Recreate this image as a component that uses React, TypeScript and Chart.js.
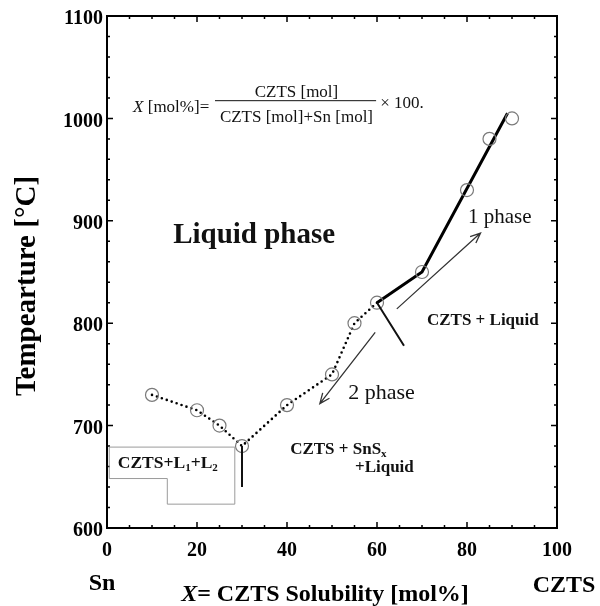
import { useEffect, useRef } from 'react';
import { Chart, registerables } from 'chart.js';

Chart.register(...registerables);

// Measured liquidus points: CZTS solubility in Sn [mol%] vs temperature [°C]
const solubility = [10, 20, 25, 30, 40, 50, 55, 60, 70, 80, 85, 90];
const temperature = [730, 715, 700, 680, 720, 750, 800, 820, 850, 930, 980, 1000];

// Dotted two-phase boundary runs through the first eight measurements
const twoPhaseX = [10, 20, 25, 30, 40, 50, 55, 60];
const twoPhaseY = [730, 715, 700, 680, 720, 750, 800, 820];

// Solid one-phase boundary
const onePhaseX = [60, 70, 89];
const onePhaseY = [820, 850, 1005];

// Axis ranges
const xMin = 0;
const xMax = 100;
const yMin = 600;
const yMax = 1100;

// Guide lines and arrows (data units)
const eutecticX = [30, 30];
const eutecticY = [680, 640];
const tieX = [60, 66];
const tieY = [820, 778];
const arrowOneX = [64.4, 83];
const arrowOneY = [814, 888];
const arrowTwoX = [59.6, 47.3];
const arrowTwoY = [791, 721.5];

// Outline of the CZTS+L1+L2 region
const regionX = [0.5, 28.4, 28.4, 13.4, 13.4, 0.5];
const regionY = [679, 679, 623.3, 623.3, 648.3, 648.3];

const SERIF = '"Liberation Serif", "Times New Roman", serif';

type Seg = [string, string, number];

function drawRuns(ctx: CanvasRenderingContext2D, x: number, y: number, segs: Seg[], align: 'left' | 'center' = 'left') {
  let total = 0;
  for (const [t, f] of segs) {
    ctx.font = f;
    total += ctx.measureText(t).width;
  }
  let cx = align === 'center' ? x - total / 2 : x;
  ctx.textAlign = 'left';
  for (const [t, f, dy] of segs) {
    ctx.font = f;
    ctx.fillText(t, cx, y + dy);
    cx += ctx.measureText(t).width;
  }
}

const overlay = {
  id: 'phaseOverlay',
  afterDraw(chart: any) {
    const { ctx, chartArea: a, scales } = chart;
    const sx = (v: number) => scales.x.getPixelForValue(v);
    const sy = (v: number) => scales.y.getPixelForValue(v);
    ctx.save();

    // frame
    ctx.strokeStyle = '#000';
    ctx.lineWidth = 2;
    ctx.strokeRect(a.left, a.top, a.right - a.left, a.bottom - a.top);

    // inward ticks on all four sides
    ctx.lineWidth = 1.5;
    ctx.beginPath();
    for (let v = xMin; v <= xMax; v += 5) {
      const len = v % 20 === 0 ? 6 : 3;
      const p = sx(v);
      ctx.moveTo(p, a.bottom);
      ctx.lineTo(p, a.bottom - len);
      ctx.moveTo(p, a.top);
      ctx.lineTo(p, a.top + len);
    }
    for (let v = yMin; v <= yMax; v += 20) {
      const len = v % 100 === 0 ? 6 : 3;
      const p = sy(v);
      ctx.moveTo(a.left, p);
      ctx.lineTo(a.left + len, p);
      ctx.moveTo(a.right, p);
      ctx.lineTo(a.right - len, p);
    }
    ctx.stroke();

    // region outline
    ctx.strokeStyle = '#9a9a9a';
    ctx.lineWidth = 1;
    ctx.beginPath();
    regionX.forEach((v, i) => {
      const px = sx(v), py = sy(regionY[i]);
      if (i === 0) ctx.moveTo(px, py); else ctx.lineTo(px, py);
    });
    ctx.closePath();
    ctx.stroke();

    // guide lines
    ctx.strokeStyle = '#111';
    ctx.lineWidth = 2;
    ctx.beginPath();
    ctx.moveTo(sx(eutecticX[0]), sy(eutecticY[0]));
    ctx.lineTo(sx(eutecticX[1]), sy(eutecticY[1]));
    ctx.moveTo(sx(tieX[0]), sy(tieY[0]));
    ctx.lineTo(sx(tieX[1]), sy(tieY[1]));
    ctx.stroke();

    // arrows
    const arrow = (xs: number[], ys: number[]) => {
      const x0 = sx(xs[0]), y0 = sy(ys[0]), x1 = sx(xs[1]), y1 = sy(ys[1]);
      const ang = Math.atan2(y1 - y0, x1 - x0);
      const hl = 11, ha = 0.4;
      ctx.beginPath();
      ctx.moveTo(x0, y0);
      ctx.lineTo(x1, y1);
      ctx.moveTo(x1 - hl * Math.cos(ang - ha), y1 - hl * Math.sin(ang - ha));
      ctx.lineTo(x1, y1);
      ctx.lineTo(x1 - hl * Math.cos(ang + ha), y1 - hl * Math.sin(ang + ha));
      ctx.stroke();
    };
    ctx.strokeStyle = '#333';
    ctx.lineWidth = 1.3;
    arrow(arrowOneX, arrowOneY);
    arrow(arrowTwoX, arrowTwoY);

    // texts
    ctx.fillStyle = '#111';
    ctx.textBaseline = 'alphabetic';
    const reg = (s: number) => `${s}px ${SERIF}`;
    const bold = (s: number) => `bold ${s}px ${SERIF}`;
    const ital = (s: number) => `italic ${s}px ${SERIF}`;

    // formula
    drawRuns(ctx, sx(5.8), sy(1006.6), [['X', ital(17), 0], [' [mol%]=', reg(17), 0]]);
    drawRuns(ctx, sx(42.1), sy(1021.2), [['CZTS [mol]', reg(17), 0]], 'center');
    drawRuns(ctx, sx(42.1), sy(996.9), [['CZTS [mol]+Sn [mol]', reg(17), 0]], 'center');
    ctx.strokeStyle = '#111';
    ctx.lineWidth = 1;
    ctx.beginPath();
    ctx.moveTo(sx(24), sy(1017.3));
    ctx.lineTo(sx(59.8), sy(1017.3));
    ctx.stroke();
    drawRuns(ctx, sx(60.7), sy(1010.5), [['\u00d7 100.', reg(17), 0]]);

    drawRuns(ctx, sx(14.7), sy(878), [['Liquid phase', bold(29), 0]]);
    drawRuns(ctx, sx(80.2), sy(897.7), [['1 phase', reg(21), 0]]);
    drawRuns(ctx, sx(53.6), sy(725.5), [['2 phase', reg(22), 0]]);
    drawRuns(ctx, sx(71.1), sy(798.4), [['CZTS + Liquid', bold(17), 0]]);
    drawRuns(ctx, sx(40.7), sy(672), [['CZTS + SnS', bold(17), 0], ['x', bold(11), 3]]);
    drawRuns(ctx, sx(55.1), sy(654.5), [['+Liquid', bold(17), 0]]);
    drawRuns(ctx, sx(2.4), sy(658.4), [
      ['CZTS+L', bold(17.5), 0], ['1', bold(11), 3], ['+L', bold(17.5), 0], ['2', bold(11), 3],
    ]);

    // axis titles and end-member labels
    ctx.fillStyle = '#000';
    drawRuns(ctx, 325, 601, [['X', `italic bold 24px ${SERIF}`, 0], ['= CZTS Solubility [mol%]', bold(24), 0]], 'center');
    drawRuns(ctx, 102, 590, [['Sn', bold(24), 0]], 'center');
    drawRuns(ctx, 564, 592, [['CZTS', bold(24), 0]], 'center');

    ctx.save();
    ctx.translate(35, 286);
    ctx.rotate(-Math.PI / 2);
    drawRuns(ctx, 0, 0, [['Tempearture [\u00b0C]', bold(29), 0]], 'center');
    ctx.restore();

    ctx.restore();
  },
};

export default function App() {
  const ref = useRef<HTMLCanvasElement | null>(null);

  useEffect(() => {
    if (!ref.current) return;
    const tickFont = { family: SERIF, size: 20, weight: 'bold' as const };
    const chart = new Chart(ref.current, {
      type: 'scatter',
      data: {
        datasets: [
          {
            label: 'measured',
            data: solubility.map((x, i) => ({ x, y: temperature[i] })),
            pointStyle: 'circle',
            pointRadius: 6.5,
            pointBorderColor: '#7a7a7a',
            pointBorderWidth: 1.2,
            pointBackgroundColor: 'rgba(0,0,0,0)',
            showLine: false,
          },
          {
            label: 'two-phase boundary',
            data: twoPhaseX.map((x, i) => ({ x, y: twoPhaseY[i] })),
            showLine: true,
            borderColor: '#000',
            borderWidth: 2.6,
            borderDash: [0, 5.2],
            borderCapStyle: 'round',
            pointRadius: 0,
          },
          {
            label: 'one-phase boundary',
            data: onePhaseX.map((x, i) => ({ x, y: onePhaseY[i] })),
            showLine: true,
            borderColor: '#000',
            borderWidth: 3,
            pointRadius: 0,
          },
        ],
      },
      options: {
        animation: false,
        responsive: false,
        maintainAspectRatio: false,
        layout: { padding: { left: 0, top: 14, right: 43, bottom: 0 } },
        plugins: { legend: { display: false }, tooltip: { enabled: false } },
        scales: {
          x: {
            type: 'linear',
            min: xMin,
            max: xMax,
            ticks: {
              stepSize: 20, font: tickFont, color: '#000', padding: 11, maxRotation: 0,
              callback: (v: any) => String(v),
            },
            grid: { display: false, drawTicks: false },
            border: { display: false },
            afterFit: (s: any) => { s.height = 78; },
          },
          y: {
            type: 'linear',
            min: yMin,
            max: yMax,
            ticks: {
              stepSize: 100, font: tickFont, color: '#000', padding: 4, labelOffset: 3,
              callback: (v: any) => String(v),
            },
            grid: { display: false, drawTicks: false },
            border: { display: false },
            afterFit: (s: any) => { s.width = 107; },
          },
        },
      },
      plugins: [overlay],
    });
    return () => chart.destroy();
  }, []);

  return (
    <div style={{ position: 'absolute', left: 0, top: 0, width: 600, height: 606, background: '#fff' }}>
      <canvas ref={ref} width={600} height={606} style={{ width: 600, height: 606, display: 'block' }} />
    </div>
  );
}
